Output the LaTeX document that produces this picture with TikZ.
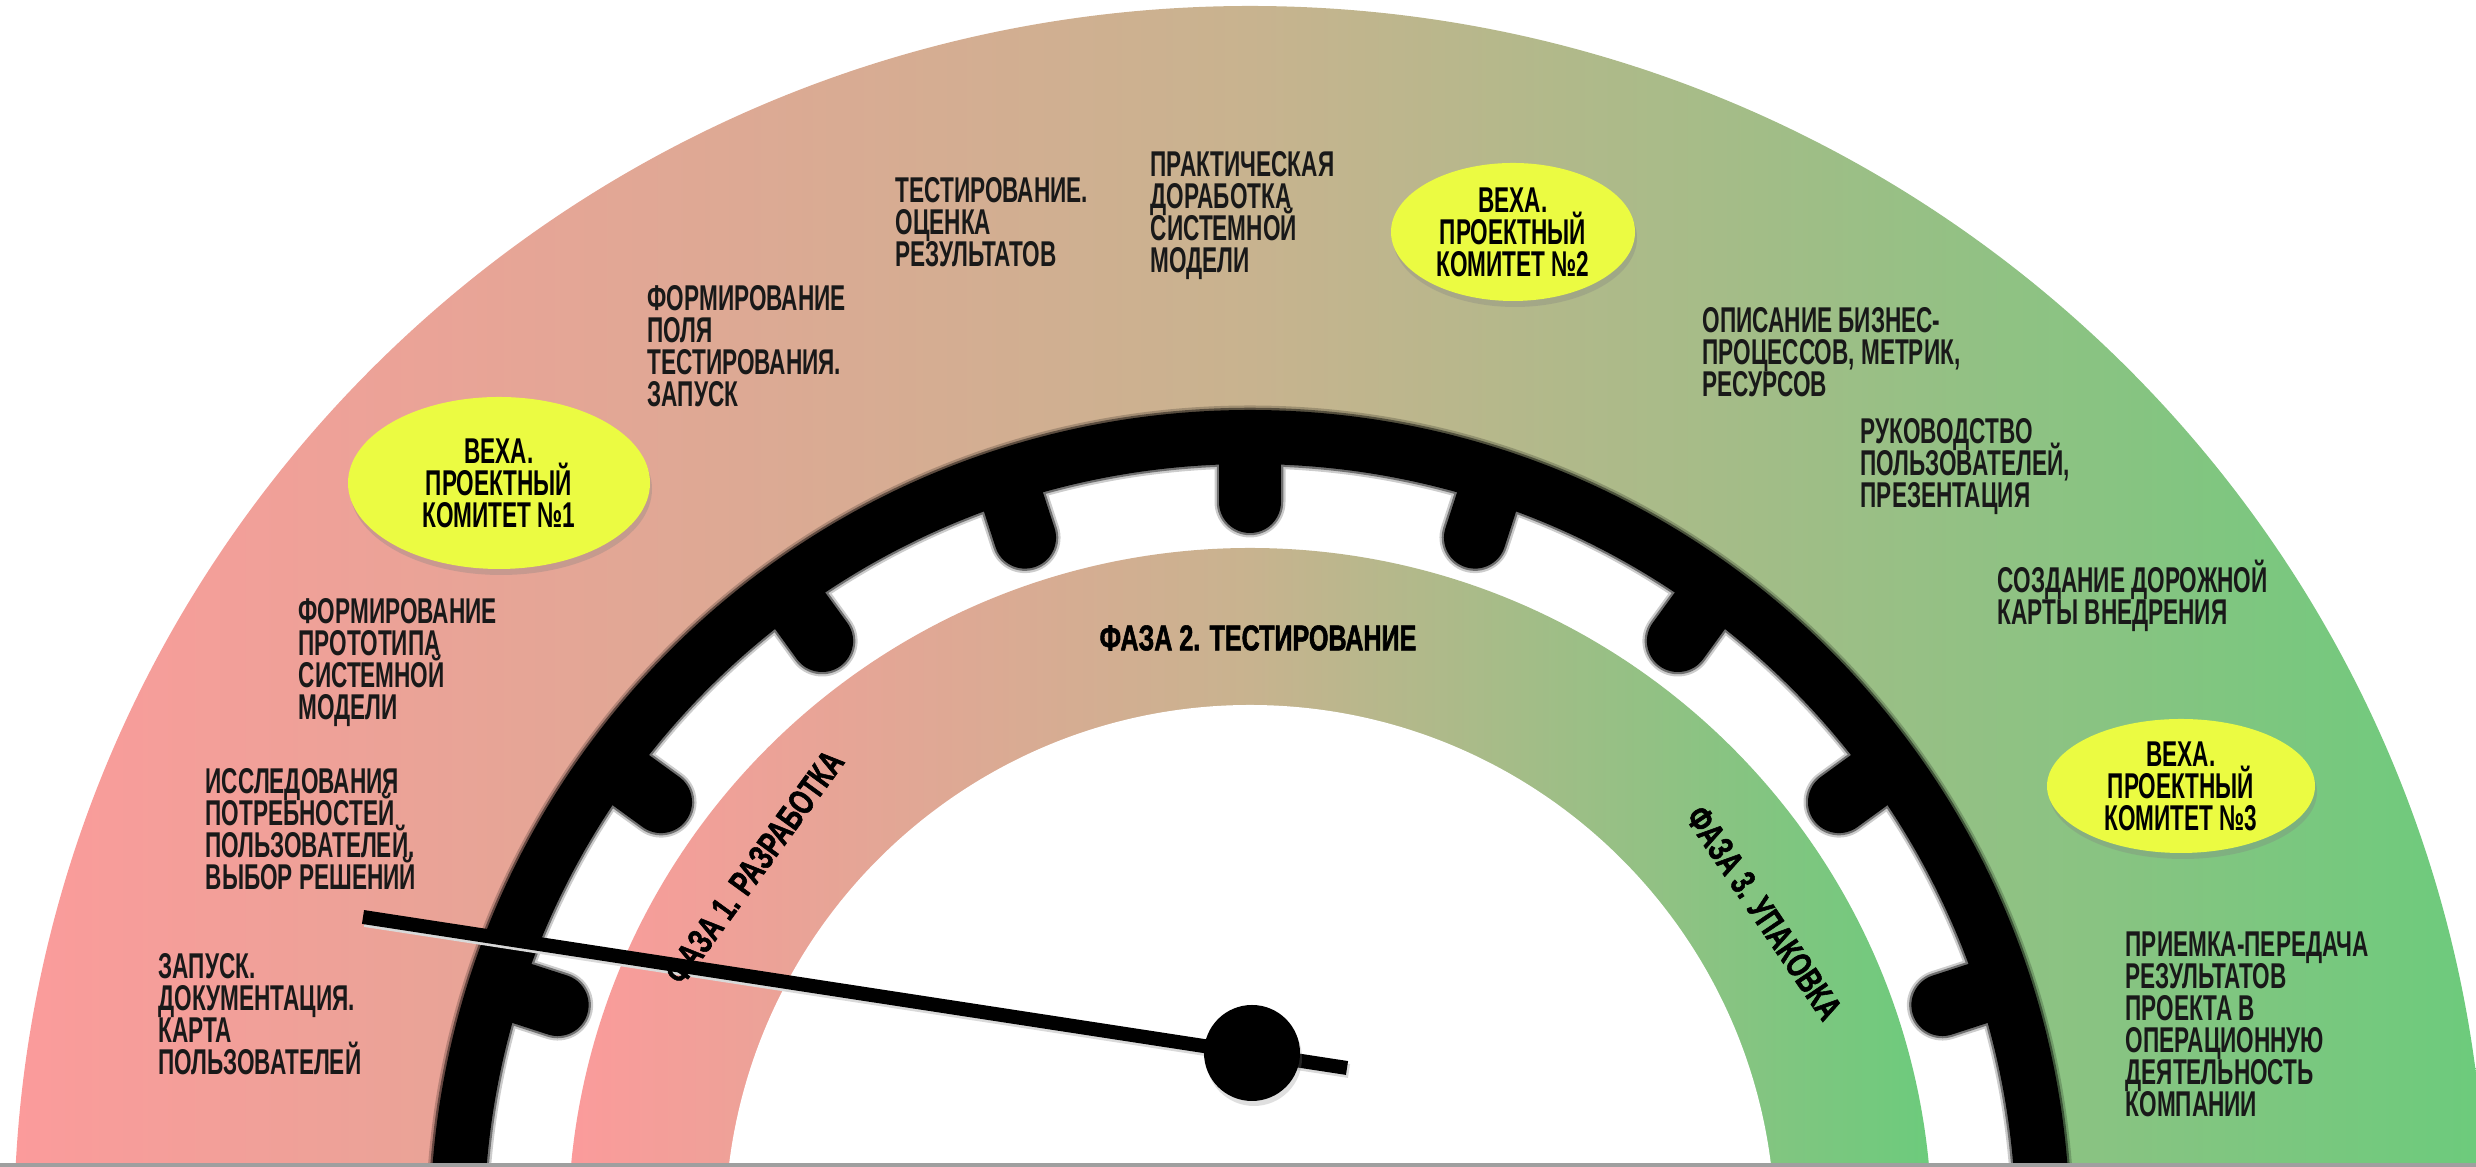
\documentclass[tikz,border=0pt]{standalone}
\usepackage{fontspec}
\setmainfont{Liberation Sans}
\newfontfamily\narrowfont[FakeStretch=0.63]{Liberation Sans}
\newfontfamily\phasefont[FakeStretch=0.70, FakeBold=1.5]{Liberation Sans}
\usetikzlibrary{calc, shapes.geometric, shadows, positioning}
\setlength{\lineskiplimit}{-10pt}

\definecolor{bandPink}{HTML}{FB9B9B}
\definecolor{bandTan}{HTML}{C8B38F}
\definecolor{bandGreen}{HTML}{6CCB7C}
\definecolor{vexaYellow}{HTML}{EBFB42}

\tikzset{
    stepText/.style={anchor=north west, align=left, inner sep=0pt, text=black!90,
        font=\narrowfont\bfseries\fontsize{10.2}{9.1}\selectfont},
    milestone/.style={ellipse, fill=vexaYellow, inner sep=0pt, align=center,
        font=\narrowfont\bfseries\fontsize{10.2}{9.1}\selectfont,
        drop shadow={shadow xshift=0.02, shadow yshift=-0.06, opacity=0.3}},
    phaseText/.style={inner sep=0pt, font=\phasefont\bfseries\fontsize{10.2}{10}\selectfont},
    gaugeTooth/.style={line cap=round},
    needleLine/.style={line width=1.4mm, line cap=butt},
}
% ring with teeth, #1 widens it for the soft edge
\newcommand{\drawGauge}[1]{
    \draw[line width=5.4mm+#1] (C) circle (7.93);
    \foreach \a in {18,36,...,162}
        \draw[gaugeTooth, line width=6.2mm+#1] ($(C)+(\a:7.8)$) -- ($(C)+(\a:7.28)$);
}

\begin{document}
\begin{tikzpicture}

    \useasboundingbox (0,0) rectangle (24.76,11.67);
    \coordinate (C) at (12.5,-0.63);

    \begin{scope}
        \clip (0,0.04) rectangle (24.76,11.67);
        % outer band
        \shade[left color=bandPink, right color=bandGreen, middle color=bandTan] (C) ellipse (12.36 and 12.24);
        \fill[white] (C) circle (8.1);
        % dial ring
        \begin{scope}[transparency group, opacity=0.2]
            \drawGauge{0.9mm}
        \end{scope}
        \begin{scope}[transparency group, opacity=0.45]
            \drawGauge{0.45mm}
        \end{scope}
        \drawGauge{0mm}
        % phase band
        \shade[left color=bandPink, right color=bandGreen, middle color=bandTan] (C) circle (6.82);
        \fill[white] (C) circle (5.25);
    \end{scope}
    \fill[gray!75] (0,0) rectangle (24.76,0.035);

    % needle
    \coordinate (needleTail) at (3.63,2.50);
    \coordinate (needleTip) at (13.47,0.99);
    \draw[needleLine, black!15, transform canvas={xshift=0.2mm, yshift=-0.3mm}] (needleTail) -- (needleTip);
    \draw[needleLine] (needleTail) -- (needleTip);
    \node[circle, fill=black, minimum size=9.6mm, inner sep=0pt,
        drop shadow={shadow xshift=0.02, shadow yshift=-0.05, opacity=0.25}] (hub) at (12.52,1.14) {};

    % phases
    \node[phaseText, rotate=54] (phase1) at (7.54,3.00) {ФАЗА 1. РАЗРАБОТКА};
    \node[phaseText] (phase2) at (12.58,5.29) {ФАЗА 2. ТЕСТИРОВАНИЕ};
    \node[phaseText, rotate=-56] (phase3) at (17.64,2.54) {ФАЗА 3. УПАКОВКА};

    % milestones
    \node[milestone, minimum width=3.02cm, minimum height=1.72cm] (vexa1) at (4.99,6.84) {ВЕХА.\\ПРОЕКТНЫЙ\\КОМИТЕТ №1};
    \node[milestone, minimum width=2.44cm, minimum height=1.38cm] (vexa2) at (15.13,9.35) {ВЕХА.\\ПРОЕКТНЫЙ\\КОМИТЕТ №2};
    \node[milestone, minimum width=2.68cm, minimum height=1.34cm] (vexa3) at (21.81,3.81) {ВЕХА.\\ПРОЕКТНЫЙ\\КОМИТЕТ №3};

    % steps
    \node[stepText] (step1) at (1.58,2.14) {ЗАПУСК.\\ДОКУМЕНТАЦИЯ.\\КАРТА\\ПОЛЬЗОВАТЕЛЕЙ};
    \node[stepText] (step2) at (2.05,3.99) {ИССЛЕДОВАНИЯ\\ПОТРЕБНОСТЕЙ\\ПОЛЬЗОВАТЕЛЕЙ.\\ВЫБОР РЕШЕНИЙ};
    \node[stepText] (step3) at (2.98,5.69) {ФОРМИРОВАНИЕ\\ПРОТОТИПА\\СИСТЕМНОЙ\\МОДЕЛИ};
    \node[stepText] (step4) at (6.47,8.82) {ФОРМИРОВАНИЕ\\ПОЛЯ\\ТЕСТИРОВАНИЯ.\\ЗАПУСК};
    \node[stepText] (step5) at (8.95,9.90) {ТЕСТИРОВАНИЕ.\\ОЦЕНКА\\РЕЗУЛЬТАТОВ};
    \node[stepText] (step6) at (11.50,10.16) {ПРАКТИЧЕСКАЯ\\ДОРАБОТКА\\СИСТЕМНОЙ\\МОДЕЛИ};
    \node[stepText] (step7) at (17.02,8.60) {ОПИСАНИЕ БИЗНЕС-\\ПРОЦЕССОВ, МЕТРИК,\\РЕСУРСОВ};
    \node[stepText] (step8) at (18.60,7.49) {РУКОВОДСТВО\\ПОЛЬЗОВАТЕЛЕЙ,\\ПРЕЗЕНТАЦИЯ};
    \node[stepText] (step9) at (19.97,6.08) {СОЗДАНИЕ ДОРОЖНОЙ\\КАРТЫ ВНЕДРЕНИЯ};
    \node[stepText] (step10) at (21.25,2.36) {ПРИЕМКА-ПЕРЕДАЧА\\РЕЗУЛЬТАТОВ\\ПРОЕКТА В\\ОПЕРАЦИОННУЮ\\ДЕЯТЕЛЬНОСТЬ\\КОМПАНИИ};

\end{tikzpicture}
\end{document}
